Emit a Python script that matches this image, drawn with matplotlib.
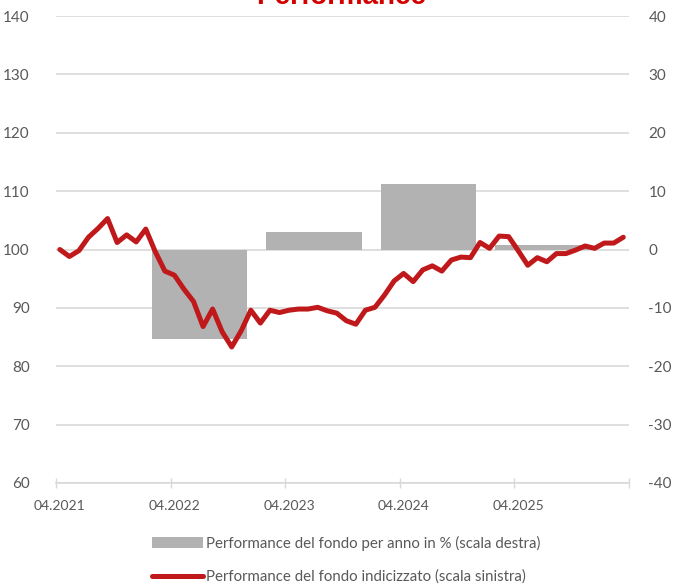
import numpy as np
import matplotlib
matplotlib.use("Agg")
import matplotlib.pyplot as plt
from matplotlib.lines import Line2D
from matplotlib.patches import Patch
import matplotlib.transforms as mtransforms

# ---- data ----
index_values = [100.0, 98.8, 99.8, 102.1, 103.6, 105.3, 101.2, 102.5, 101.3, 103.5,
                99.6, 96.3, 95.6, 93.2, 91.1, 86.8, 89.8, 85.9, 83.3, 86.1,
                89.6, 87.4, 89.6, 89.2, 89.6, 89.8, 89.8, 90.1, 89.5, 89.1,
                87.8, 87.2, 89.6, 90.1, 92.2, 94.6, 95.9, 94.5, 96.5, 97.2,
                96.3, 98.2, 98.7, 98.6, 101.2, 100.2, 102.3, 102.2, 99.8, 97.3,
                98.6, 97.9, 99.3, 99.3, 99.9, 100.6, 100.2, 101.1, 101.1, 102.1]
bar_years = ["2022", "2023", "2024", "2025"]
bar_values = [-15.4, 3.0, 11.2, 0.8]
x_tick_labels = ["04.2021", "04.2022", "04.2023", "04.2024", "04.2025", ""]
left_ticks = [60, 70, 80, 90, 100, 110, 120, 130, 140]
right_ticks = [-40, -30, -20, -10, 0, 10, 20, 30, 40]
title_text = "Performance"
legend_bar = "Performance del fondo per anno in % (scala destra)"
legend_line = "Performance del fondo indicizzato (scala sinistra)"

# ---- style ----
LINE_C = "#c0191b"
BAR_C = "#b2b2b2"
GRID_C = "#d9d9d9"
TXT_C = "#595959"
TITLE_C = "#d40000"
FONT = ["Lato", "DejaVu Sans"]
plt.rcParams["font.family"] = FONT
plt.rcParams["axes.unicode_minus"] = False

W, H = 680, 585
fig = plt.figure(figsize=(W / 100, H / 100), dpi=100)
ax_r = fig.add_axes([56 / W, 1 - 483 / H, (629 - 56) / W, 467 / H])
ax_l = ax_r.twinx()

# months since 04.2021
month_pos = np.arange(len(index_values)) + 0.4
bar_pos = [15 + 12 * i for i in range(len(bar_years))]  # mid calendar year

# right axis: grid + bars (lowest)
ax_r.set_zorder(1)
ax_l.set_zorder(2)
ax_l.patch.set_visible(False)
ax_r.set_axisbelow(True)
ax_r.bar(bar_pos, bar_values, width=10, color=BAR_C, zorder=2)
ax_r.set_ylim(-40, 40)
ax_r.set_yticks(right_ticks)
ax_r.yaxis.grid(True, color=GRID_C, lw=1.2)
ax_r.yaxis.tick_right()
ax_r.tick_params(axis="y", length=0, pad=14, labelsize=11, labelcolor=TXT_C)

# left axis: line
ax_l.plot(month_pos, index_values, color=LINE_C, lw=3.6, solid_capstyle="round",
          solid_joinstyle="round", zorder=3)
ax_l.set_ylim(60, 140)
ax_l.set_yticks(left_ticks)
ax_l.yaxis.tick_left()
ax_l.tick_params(axis="y", length=0, pad=19, labelsize=11, labelcolor=TXT_C)

ax_r.set_xlim(0, 60)
ax_r.set_xticks([0, 12, 24, 36, 48, 60])
ax_r.set_xticklabels(x_tick_labels)
ax_r.tick_params(axis="x", direction="inout", length=7, width=1, color=GRID_C,
                 pad=9, labelsize=10, labelcolor=TXT_C)
off = mtransforms.ScaledTranslation(4 / 100, 0, fig.dpi_scale_trans)
for lab in ax_r.get_xticklabels():
    lab.set_transform(lab.get_transform() + off)

for a in (ax_r, ax_l):
    for s in ("top", "left", "right"):
        a.spines[s].set_visible(False)
ax_l.spines["bottom"].set_visible(False)
ax_r.spines["bottom"].set_color(GRID_C)
ax_r.spines["bottom"].set_linewidth(1.2)

# title (partly cut off at top, as in the reference)
fig.text(341 / W, 1 - 4 / H, title_text, ha="center", va="baseline",
         color=TITLE_C, fontsize=20, fontweight="bold",
         family=["Liberation Sans", "DejaVu Sans"])

# legend
handles = [Patch(facecolor=BAR_C, edgecolor="none"),
           Line2D([0], [0], color=LINE_C, lw=3.6, solid_capstyle="round")]
fig.legend(handles, [legend_bar, legend_line], loc="center left",
           bbox_to_anchor=(144 / W, 1 - 560 / H), frameon=False, borderpad=0,
           fontsize=10.8, handlelength=3.45, handletextpad=0.2, labelspacing=1.25,
           labelcolor=TXT_C)

fig.savefig("out.png", dpi=100)
